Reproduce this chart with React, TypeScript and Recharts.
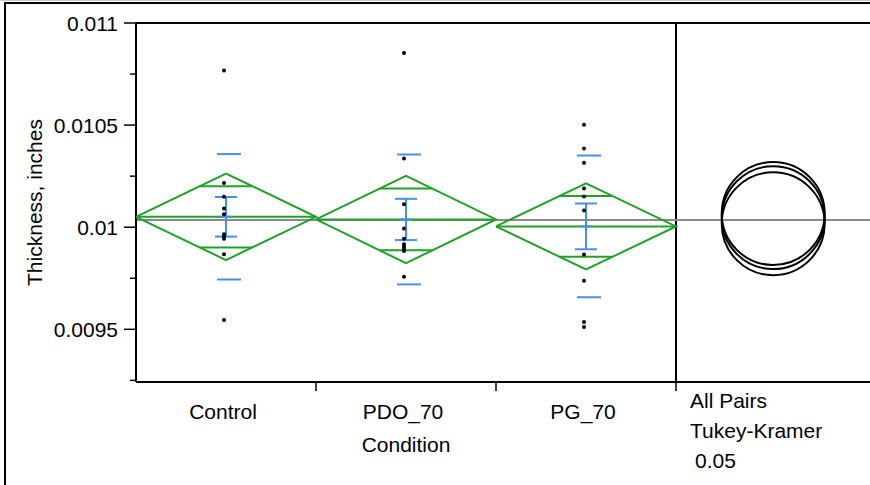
import { ComposedChart, Scatter, XAxis, YAxis, ReferenceLine, ErrorBar } from 'recharts'

// Oneway analysis of Thickness by Condition (means diamonds + comparison circles)
const conditions = ['Control', 'PDO_70', 'PG_70']

const controlThickness = [0.010767, 0.010217, 0.010149, 0.010092, 0.010064, 0.009965, 0.009953, 0.009943, 0.009867, 0.009546]
const pdo70Thickness = [0.010853, 0.010337, 0.010112, 0.009994, 0.009943, 0.009916, 0.009904, 0.009893, 0.009883, 0.009757]
const pg70Thickness = [0.010502, 0.010385, 0.010316, 0.010189, 0.01015, 0.010082, 0.009866, 0.009738, 0.009536, 0.009511]

const groupMeans = [0.010051, 0.010038, 0.010004]
const meanCI95 = [0.000212, 0.000214, 0.000211]
const stdDevs = [0.000307, 0.000318, 0.000347]
const stdErrs = [0.000097, 0.000101, 0.000112]
const grandMean = 0.010035

// Tukey-Kramer comparison circles
const circleCenters = [0.010067, 0.010047, 0.010017]
const circleRadius = 0.000252
const circleX = 3.54

const yMajorTicks = [0.0095, 0.01, 0.0105, 0.011]
const yMinorTicks = [0.00925, 0.00975, 0.01025, 0.01075]
const compareLabels = ['All Pairs', 'Tukey-Kramer', '0.05']

const Y_MIN = 0.009242
const Y_MAX = 0.011
const X_MAX = 4.2

const CHART_W = 900
const CHART_H = 485
const TOP = 23
const X_AXIS_H = 103
const PX_PER_Y = (CHART_H - TOP - X_AXIS_H) / (Y_MAX - Y_MIN)

const GREEN = '#22a02a'
const BLUE = '#4a8df0'
const FONT = { fontFamily: '"Liberation Sans", Arial, sans-serif', fontSize: 21, fill: '#000' }

const groups = [controlThickness, pdo70Thickness, pg70Thickness]
const points = groups.flatMap((vals, i) => vals.map((y) => ({ x: i + 0.5, y })))

const diamonds = groupMeans.map((m, i) => [
  { x: i, y: m },
  { x: i + 0.5, y: m + meanCI95[i] },
  { x: i + 1, y: m },
  { x: i + 0.5, y: m - meanCI95[i] },
  { x: i, y: m },
])
const meanLines = groupMeans.map((m, i) => [{ x: i, y: m }, { x: i + 1, y: m }])
// overlap marks sit at mean +/- CI/sqrt(2), spanning the diamond width at that height
const overlapLines = groupMeans.flatMap((m, i) => {
  const h = meanCI95[i] / Math.SQRT2
  const w = 0.5 * (1 - 1 / Math.SQRT2)
  return [
    [{ x: i + 0.5 - w, y: m + h }, { x: i + 0.5 + w, y: m + h }],
    [{ x: i + 0.5 - w, y: m - h }, { x: i + 0.5 + w, y: m - h }],
  ]
})
const sdMarks = groupMeans.flatMap((m, i) => [
  { x: i + 0.5, y: m + stdDevs[i] },
  { x: i + 0.5, y: m - stdDevs[i] },
])
const seBars = groupMeans.map((m, i) => ({ x: i + 0.5, y: m, se: stdErrs[i] }))
const circles = circleCenters.map((y) => ({ x: circleX, y }))

const xTicks = conditions.flatMap((_, i) => [i + 0.5, i + 1])
const yTicks = [...yMinorTicks, ...yMajorTicks].sort((a, b) => a - b)

const noShape = () => <g />

function YTick({ x, y, payload }: any) {
  const major = yMajorTicks.includes(payload.value)
  return (
    <g>
      <line x1={x - (major ? 12 : 6)} x2={x} y1={y} y2={y} stroke="#000" strokeWidth={1.5} />
      {major && (
        <text x={x - 18} y={y} dy="0.36em" textAnchor="end" {...FONT}>
          {String(payload.value)}
        </text>
      )}
    </g>
  )
}

function XTick({ x, y, payload }: any) {
  const v = payload.value
  if (Number.isInteger(v)) {
    return (
      <g>
        <line x1={x} x2={x} y1={y} y2={y + 9} stroke="#000" strokeWidth={1.5} />
        {v === conditions.length &&
          compareLabels.map((t, k) => (
            <text key={t} x={x + (k === 2 ? 19 : 14)} y={y + 26 + k * 30} textAnchor="start" {...FONT}>
              {t}
            </text>
          ))}
      </g>
    )
  }
  return (
    <g>
      <text x={x - 3} y={y + 37} textAnchor="middle" {...FONT}>
        {conditions[Math.floor(v)]}
      </text>
      {v === conditions.length / 2 && (
        <text x={x} y={y + 70} textAnchor="middle" {...FONT}>
          Condition
        </text>
      )}
    </g>
  )
}

export default function App() {
  return (
    <div style={{ position: 'absolute', left: 0, top: 0, width: 870, height: 485, overflow: 'hidden', background: '#fff' }}>
      <div style={{ position: 'absolute', left: 0, top: 0, width: 870, height: 1, background: '#c8c8c8' }} />
      <div
        style={{
          position: 'absolute', left: 4, top: 2, width: 900, height: 500,
          borderTop: '2px solid #000', borderLeft: '2px solid #000',
        }}
      />
      <div style={{ position: 'absolute', left: 0, top: 0 }}>
        <ComposedChart width={CHART_W} height={CHART_H} margin={{ top: TOP, right: 8, bottom: 0, left: 6 }}>
          <XAxis
            type="number" dataKey="x" domain={[0, X_MAX]} ticks={xTicks} interval={0}
            height={X_AXIS_H} tickSize={0} tickMargin={0} tickLine={false}
            axisLine={{ stroke: '#000', strokeWidth: 2 }} tick={<XTick />} allowDataOverflow
          />
          <YAxis
            type="number" dataKey="y" domain={[Y_MIN, Y_MAX]} ticks={yTicks} interval={0}
            width={130} tickSize={0} tickMargin={0} tickLine={false}
            axisLine={{ stroke: '#000', strokeWidth: 2 }} tick={<YTick />} allowDataOverflow
            label={{
              value: 'Thickness, inches', angle: -90, position: 'insideLeft', offset: 29,
              style: { textAnchor: 'middle', ...FONT },
            }}
          />
          <ReferenceLine y={Y_MAX} stroke="#000" strokeWidth={2} />
          <ReferenceLine x={conditions.length} stroke="#000" strokeWidth={2} />
          <ReferenceLine y={grandMean} stroke="#8a8a8a" strokeWidth={2} />

          {diamonds.map((d, i) => (
            <Scatter key={`d${i}`} data={d} line={{ stroke: GREEN, strokeWidth: 2 }} lineType="joint" shape={noShape} isAnimationActive={false} />
          ))}
          {meanLines.map((d, i) => (
            <Scatter key={`m${i}`} data={d} line={{ stroke: GREEN, strokeWidth: 2 }} lineType="joint" shape={noShape} isAnimationActive={false} />
          ))}
          {overlapLines.map((d, i) => (
            <Scatter key={`o${i}`} data={d} line={{ stroke: GREEN, strokeWidth: 2 }} lineType="joint" shape={noShape} isAnimationActive={false} />
          ))}

          <Scatter
            data={sdMarks} isAnimationActive={false}
            shape={(p: any) => <line x1={p.cx - 9} x2={p.cx + 15} y1={p.cy} y2={p.cy} stroke={BLUE} strokeWidth={2} />}
          />
          <Scatter
            data={seBars} isAnimationActive={false}
            shape={(p: any) => <line x1={p.cx - 6} x2={p.cx + 6} y1={p.cy} y2={p.cy} stroke={BLUE} strokeWidth={2} />}
          >
            <ErrorBar dataKey="se" direction="y" width={11} stroke={BLUE} strokeWidth={2} />
          </Scatter>

          <Scatter
            data={points} isAnimationActive={false}
            shape={(p: any) => <circle cx={p.cx - 2} cy={p.cy} r={2} fill="#000" />}
          />

          <Scatter
            data={circles} isAnimationActive={false}
            shape={(p: any) => <circle cx={p.cx} cy={p.cy} r={circleRadius * PX_PER_Y} fill="none" stroke="#000" strokeWidth={2} />}
          />
        </ComposedChart>
      </div>
    </div>
  )
}
